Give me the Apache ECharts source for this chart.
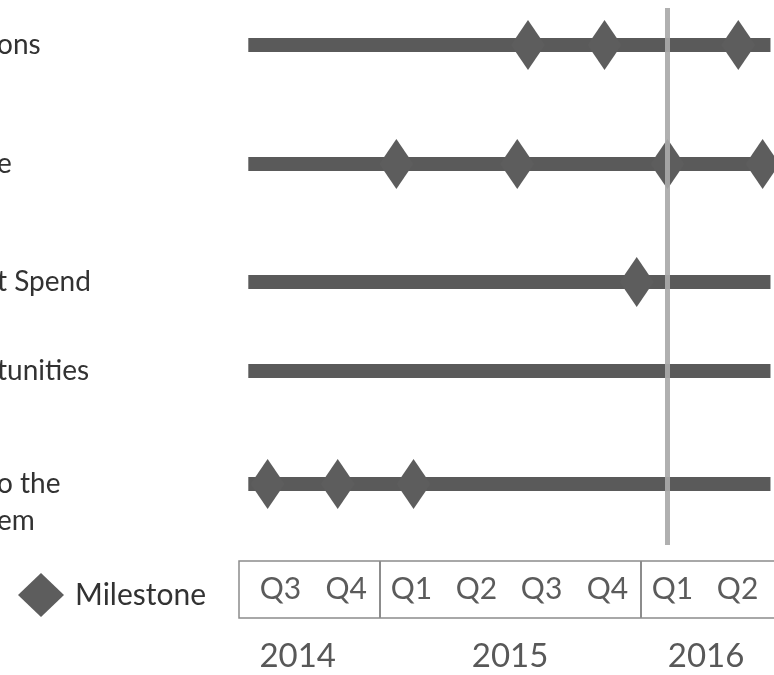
<!DOCTYPE html>
<html>
<head>
<meta charset="utf-8">
<script src="https://cdn.jsdelivr.net/npm/echarts@6/dist/echarts.min.js"></script>
<style>
  html, body { margin: 0; padding: 0; background: #ffffff; overflow: hidden; }
  /* the timeline runs on past the right edge of the window */
  #chart { width: 860px; height: 675px; }
</style>
</head>
<body>
<div id="chart"></div>
<script>
// ---- Workstreams (top to bottom) ----
const taskLabels = ['ons', 'e', 't Spend', 'tunities', 'o the\nem'];
const barStart = ['2014-07-01', '2014-07-01', '2014-07-01', '2014-07-01', '2014-07-01'];
const barEnd   = ['2016-06-30', '2016-06-30', '2016-06-30', '2016-06-30', '2016-06-30'];

// ---- Milestone dates per workstream ----
const milestonesTask1 = ['2015-07-27', '2015-11-11', '2016-05-16'];
const milestonesTask2 = ['2015-01-24', '2015-07-12', '2016-02-07', '2016-06-19'];
const milestonesTask3 = ['2015-12-26'];
const milestonesTask4 = [];
const milestonesTask5 = ['2014-07-28', '2014-11-03', '2015-02-17'];
const taskMilestones = [milestonesTask1, milestonesTask2, milestonesTask3, milestonesTask4, milestonesTask5];

// ---- Status date line ----
const statusDate = '2016-02-07';

// ---- Quarter strip and year captions ----
const quarterNames = ['Q3', 'Q4', 'Q1', 'Q2', 'Q3', 'Q4', 'Q1', 'Q2'];
const quarterMids  = ['2014-08-15', '2014-11-15', '2015-02-14', '2015-05-16',
                      '2015-08-15', '2015-11-15', '2016-02-14', '2016-05-15'];
const yearNames    = ['2014', '2015', '2016'];
const yearMids     = ['2014-09-08', '2015-07-02', '2016-04-01'];
const yearBreaks   = ['2015-01-01', '2016-01-01'];

// ---- Look & layout ----
const FONT = 'Lato';
const TEXT = '#323232';
const BAR = '#5a5a5a';
const DIAMOND = '#5d5d5d';
const RULE = '#8c8c8c';
const axisMin = '2014-06-18';
const axisMax = '2016-10-01';
const plotLeft = 239;
const plotWidth = 598;
const rowCentres = [45, 164, 282, 371, 484];

const t = s => +new Date(s + 'T00:00:00Z');

const grids = [], xAxes = [], yAxes = [], series = [];

function timeAxis(gridIndex) {
  return { type: 'time', gridIndex, min: t(axisMin), max: t(axisMax), show: false };
}
function band(top, height, extra) {
  return Object.assign({ left: plotLeft, width: plotWidth, top, height, outerBoundsMode: 'none', containLabel: false }, extra || {});
}

// One thin band per workstream
taskLabels.forEach((label, i) => {
  grids.push(band(rowCentres[i] - 30, 60));
  xAxes.push(timeAxis(i));
  yAxes.push({
    type: 'category', gridIndex: i, data: [label],
    axisLine: { show: false }, axisTick: { show: false }, splitLine: { show: false },
    axisLabel: {
      align: 'left', margin: plotLeft + 3,
      color: TEXT, fontFamily: FONT, fontSize: 28, lineHeight: 37,
      // keep the first line of a wrapped label level with its bar
      formatter: v => '\n'.repeat(v.split('\n').length - 1) + v
    }
  });
  series.push({
    type: 'line', xAxisIndex: i, yAxisIndex: i, silent: true, z: 2,
    symbol: 'none', animation: false,
    lineStyle: { color: BAR, width: 14, cap: 'butt' },
    data: [[t(barStart[i]), label], [t(barEnd[i]), label]]
  });
  series.push({
    type: 'scatter', name: 'Milestone', xAxisIndex: i, yAxisIndex: i, z: 3,
    symbol: 'diamond', symbolSize: [34, 50], clip: false, animation: false,
    itemStyle: { color: DIAMOND, opacity: 1 },
    data: taskMilestones[i].map(d => [t(d), label])
  });
});

// Status date line across all workstreams
const lineGrid = grids.length;
grids.push(band(8, 537));
xAxes.push(timeAxis(lineGrid));
yAxes.push({ type: 'value', gridIndex: lineGrid, min: 0, max: 1, show: false });
series.push({
  type: 'line', xAxisIndex: lineGrid, yAxisIndex: lineGrid, z: 6, silent: true,
  symbol: 'none', animation: false, lineStyle: { opacity: 0 },
  data: [[t(statusDate), 0.5]],
  markLine: {
    silent: true, symbol: 'none', animation: false, z: 6,
    label: { show: false },
    lineStyle: { color: '#a9a9a9', width: 5, type: 'solid', opacity: 0.92 },
    data: [{ xAxis: t(statusDate) }]
  }
});

// Quarter strip with year captions underneath
const stripGrid = grids.length;
grids.push(band(561, 57, { show: true, borderColor: RULE, borderWidth: 1.5, backgroundColor: 'transparent' }));
xAxes.push(timeAxis(stripGrid));
yAxes.push({ type: 'value', gridIndex: stripGrid, min: 0, max: 1, show: false });
series.push({
  type: 'scatter', xAxisIndex: stripGrid, yAxisIndex: stripGrid, silent: true,
  symbolSize: 1, itemStyle: { color: 'rgba(0,0,0,0)' }, animation: false,
  label: {
    show: true, position: 'inside', formatter: p => p.data[2],
    color: TEXT, fontFamily: FONT, fontSize: 30
  },
  data: quarterMids.map((d, i) => [t(d), 0.5, quarterNames[i]]),
  markLine: {
    silent: true, symbol: 'none', animation: false,
    label: { show: false },
    lineStyle: { color: RULE, width: 2, type: 'solid' },
    data: yearBreaks.map(d => ({ xAxis: t(d) }))
  }
});
series.push({
  type: 'scatter', xAxisIndex: stripGrid, yAxisIndex: stripGrid, silent: true,
  symbolSize: 1, itemStyle: { color: 'rgba(0,0,0,0)' }, clip: false, animation: false,
  label: {
    show: true, position: 'inside', formatter: p => p.data[2],
    color: '#2e2e2e', fontFamily: FONT, fontSize: 33
  },
  data: yearMids.map((d, i) => [t(d), -0.68, yearNames[i]])
});

const chart = echarts.init(document.getElementById('chart'), null, { renderer: 'canvas' });
chart.setOption({
  backgroundColor: '#ffffff',
  animation: false,
  legend: {
    data: ['Milestone'], left: 13, top: 568,
    icon: 'diamond', itemWidth: 46, itemHeight: 44,
    selectedMode: false,
    textStyle: { color: TEXT, fontFamily: FONT, fontSize: 30, padding: [0, 0, 0, 6] }
  },
  grid: grids,
  xAxis: xAxes,
  yAxis: yAxes,
  series: series
});
</script>
</body>
</html>
